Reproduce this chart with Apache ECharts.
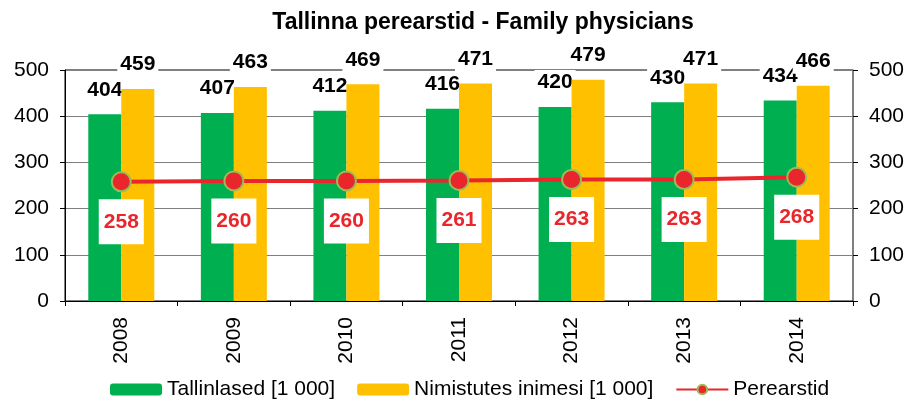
<!DOCTYPE html>
<html>
<head>
<meta charset="utf-8">
<script src="https://cdn.jsdelivr.net/npm/echarts@6/dist/echarts.min.js"></script>
<style>
  html, body { margin: 0; padding: 0; background: #fff; }
  #chart { width: 908px; height: 400px; }
</style>
</head>
<body>
<div id="chart"></div>
<script>
// aastad
const years = ["2008", "2009", "2010", "2011", "2012", "2013", "2014"];
// Tallinlased [1 000]
const tallinlased = [404, 407, 412, 416, 420, 430, 434];
// Nimistutes inimesi [1 000]
const nimistutes = [459, 463, 469, 471, 479, 471, 466];
// Perearstid
const perearstid = [258, 260, 260, 261, 263, 263, 268];

const font = "Liberation Sans, Arial, sans-serif";

const chart = echarts.init(document.getElementById("chart"));

const barLabel = {
    show: true,
    position: "top",
    distance: 12,
    color: "#000",
    fontFamily: font,
    fontWeight: "bold",
    fontSize: 21,
    backgroundColor: "#fff",
    padding: [2, 3]
};

const yAxisCommon = {
    type: "value",
    min: 0,
    max: 500,
    interval: 100,
    axisLine: { show: true, lineStyle: { color: "#000" } },
    axisTick: { show: true, length: 5, lineStyle: { color: "#000" } },
    axisLabel: { color: "#000", fontFamily: font, fontSize: 21, margin: 16 },
    splitLine: { show: true, lineStyle: { color: "#7f7f7f", width: 1 } }
};

const options = {
    animation: false,
    title: {
        text: "Tallinna perearstid - Family physicians",
        left: 478,
        textAlign: "center",
        top: 6,
        textStyle: { fontFamily: font, fontWeight: "bold", fontSize: 23, color: "#000" }
    },
    legend: {
        top: 374,
        left: 105,
        itemWidth: 52,
        itemHeight: 12,
        itemGap: 22,
        textStyle: { fontFamily: font, fontSize: 21, color: "#000" },
        data: ["Tallinlased [1 000]", "Nimistutes inimesi [1 000]", "Perearstid"]
    },
    grid: {
        left: 65,
        right: 55,
        top: 70,
        bottom: 99,
        containLabel: false,
        show: true,
        borderColor: "#000",
        borderWidth: 1
    },
    xAxis: {
        type: "category",
        data: years,
        axisLine: { lineStyle: { color: "#000" } },
        axisTick: { show: true, length: 5, lineStyle: { color: "#000" } },
        axisLabel: { rotate: 90, color: "#000", fontFamily: font, fontSize: 21, margin: 16 }
    },
    yAxis: [
        yAxisCommon,
        Object.assign({}, yAxisCommon, {
            position: "right",
            axisLine: { show: true, lineStyle: { color: "#7f7f7f" } },
            splitLine: { show: false }
        })
    ],
    series: [
        {
            name: "Tallinlased [1 000]",
            type: "bar",
            data: tallinlased,
            barWidth: 33,
            barGap: "0%",
            itemStyle: { color: "#00B050" },
            label: barLabel,
            z: 2
        },
        {
            name: "Nimistutes inimesi [1 000]",
            type: "bar",
            data: nimistutes,
            barWidth: 33,
            barGap: "0%",
            itemStyle: { color: "#FFC000" },
            label: barLabel,
            z: 3
        },
        {
            name: "Perearstid",
            type: "line",
            yAxisIndex: 1,
            data: perearstid,
            symbol: "circle",
            symbolSize: 19,
            lineStyle: { color: "#E8262B", width: 4 },
            itemStyle: { color: "#E8262B", borderColor: "#9BBB59", borderWidth: 2 },
            label: {
                show: true,
                position: "bottom",
                distance: 7,
                color: "#E8262B",
                fontFamily: font,
                fontWeight: "bold",
                fontSize: 21,
                backgroundColor: "#fff",
                padding: [12, 5, 12, 5]
            },
            z: 5
        }
    ]
};

chart.setOption(options);
</script>
</body>
</html>
